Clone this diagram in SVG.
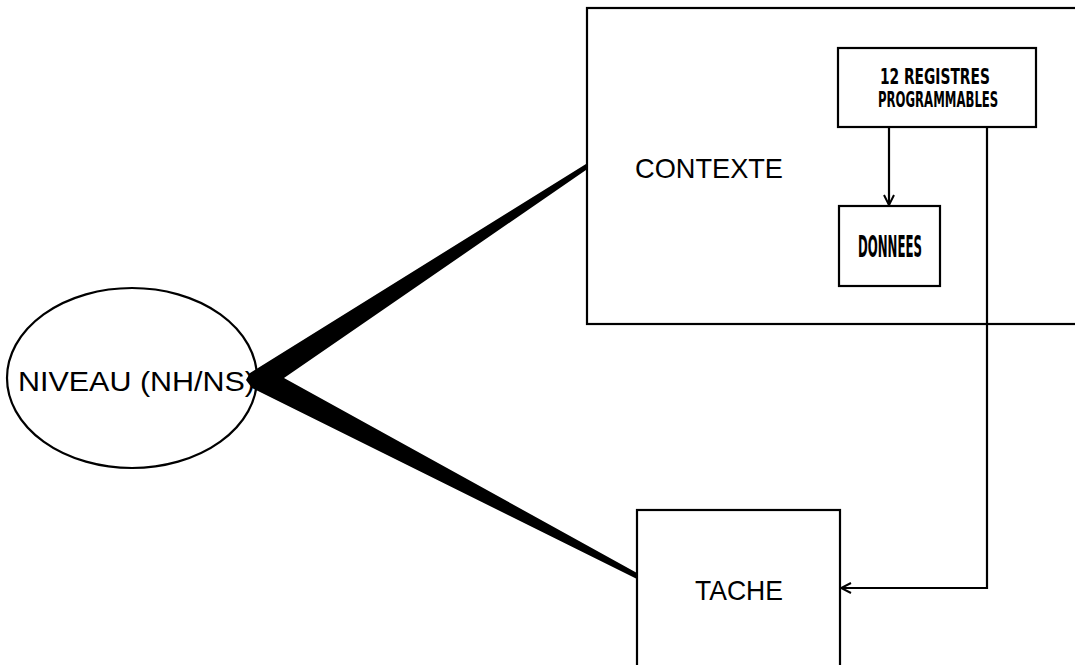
<svg xmlns="http://www.w3.org/2000/svg" width="1075" height="665" viewBox="0 0 1075 665">
<defs>
<style>
.box{fill:none;stroke:#000;stroke-width:2.2}
.ln{fill:none;stroke:#000;stroke-width:2.2}
.t{font-family:"Liberation Sans",Arial,sans-serif;fill:#000}
.c{font-family:"DejaVu Sans Condensed","Liberation Sans",sans-serif;font-weight:bold;fill:#000}
</style>
<marker id="ah" viewBox="0 0 12 12" refX="11" refY="6" markerWidth="12" markerHeight="12" markerUnits="userSpaceOnUse" orient="auto">
<path d="M1,1 L11,6 L1,11" fill="none" stroke="#000" stroke-width="2"/>
</marker>
</defs>
<rect width="1075" height="665" fill="#fff"/>
<g id="connectors">
<polygon points="250,373 586,164 586,170 284,378 637,573 637,579 252,388 246,380" fill="#000"/>
<line class="ln" x1="889" y1="127" x2="889" y2="205" marker-end="url(#ah)"/>
<polyline class="ln" points="987,127 987,588 841,588" marker-end="url(#ah)"/>
</g>
<g id="niveau">
<ellipse class="box" cx="132" cy="378" rx="125" ry="90"/>
<text class="t" x="18" y="391" font-size="28" textLength="237" lengthAdjust="spacingAndGlyphs">NIVEAU (NH/NS)</text>
</g>
<g id="contexte">
<rect class="box" x="587" y="8" width="500" height="316"/>
<text class="t" x="635" y="178" font-size="28" textLength="148" lengthAdjust="spacingAndGlyphs">CONTEXTE</text>
</g>
<g id="registres">
<rect class="box" x="838" y="48" width="198" height="79"/>
<text class="c" transform="translate(880,84) scale(0.65,1)" x="0" y="0" font-size="22" textLength="169" lengthAdjust="spacingAndGlyphs">12 REGISTRES</text>
<text class="c" transform="translate(878,107) scale(0.65,1)" x="0" y="0" font-size="22" textLength="185" lengthAdjust="spacingAndGlyphs">PROGRAMMABLES</text>
</g>
<g id="donnees">
<rect class="box" x="839" y="206" width="101" height="80"/>
<text class="c" transform="translate(858,257) scale(0.45,1)" x="0" y="0" font-size="30" textLength="142" lengthAdjust="spacingAndGlyphs">DONNEES</text>
</g>
<g id="tache">
<rect class="box" x="637" y="510" width="203" height="170"/>
<text class="t" x="695" y="600" font-size="28" textLength="88" lengthAdjust="spacingAndGlyphs">TACHE</text>
</g>
</svg>
